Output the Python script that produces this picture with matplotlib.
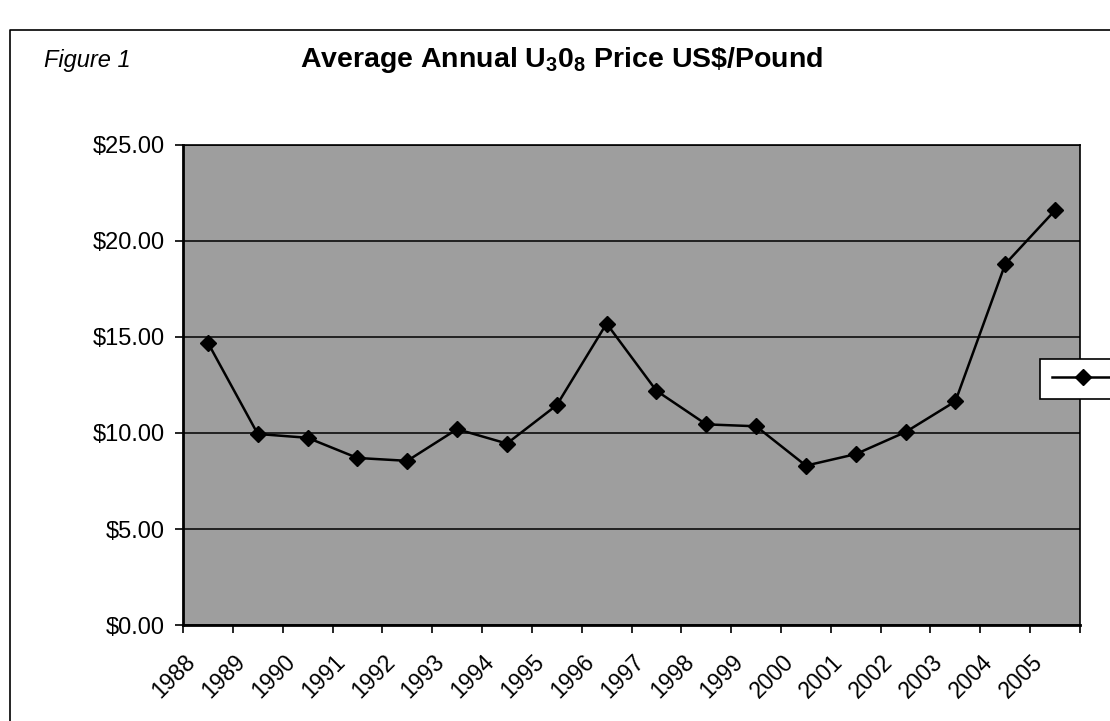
import matplotlib
matplotlib.use('Agg')
import matplotlib.pyplot as plt
from matplotlib.lines import Line2D
from matplotlib.transforms import ScaledTranslation

plt.rcParams['font.family'] = ['Liberation Sans', 'DejaVu Sans']
plt.rcParams['mathtext.fontset'] = 'custom'
plt.rcParams['mathtext.rm'] = 'Liberation Sans:bold'
plt.rcParams['mathtext.bf'] = 'Liberation Sans:bold'

years = ['1988', '1989', '1990', '1991', '1992', '1993', '1994', '1995', '1996',
         '1997', '1998', '1999', '2000', '2001', '2002', '2003', '2004', '2005']
prices = [14.70, 9.95, 9.75, 8.70, 8.55, 10.20, 9.45, 11.45, 15.70,
          12.20, 10.45, 10.35, 8.30, 8.90, 10.05, 11.65, 18.80, 21.60]
y_ticks = [0, 5, 10, 15, 20, 25]
y_labels = ['$0.00', '$5.00', '$10.00', '$15.00', '$20.00', '$25.00']

fig = plt.figure(figsize=(11.1, 7.21), dpi=100)
ax = fig.add_axes([183 / 1110, 96 / 721, 897 / 1110, 480 / 721])
ax.set_facecolor('#9e9e9e')

x = list(range(len(years)))
line, = ax.plot(x, prices, color='black', lw=1.8, marker='D', markersize=8.5,
                markerfacecolor='black', markeredgecolor='black', zorder=3)

ax.set_xlim(-0.5, len(years) - 0.5)
ax.set_ylim(0, 25)
ax.set_yticks(y_ticks)
ax.set_yticklabels(y_labels, fontsize=17)
ax.yaxis.grid(True, color='black', lw=1.1)
ax.set_axisbelow(True)

ax.set_xticks(x)
ax.set_xticks([i - 0.5 for i in range(len(years) + 1)], minor=True)
ax.set_xticklabels(years, fontsize=16.5, rotation=45, ha='right', va='center',
                   rotation_mode='anchor')
ax.tick_params(axis='x', which='major', length=0, pad=24)
ax.tick_params(axis='x', which='minor', length=6, width=1.2, direction='out')
ax.tick_params(axis='y', length=6, width=1.2, pad=7)
off = ScaledTranslation(-0.16, 0, fig.dpi_scale_trans)
for lab in ax.get_xticklabels():
    lab.set_transform(lab.get_transform() + off)

for side in ['top', 'right']:
    ax.spines[side].set_linewidth(1.2)
for side in ['left', 'bottom']:
    ax.spines[side].set_linewidth(2)

leg = fig.legend(handles=[line], labels=[''], loc='center left',
                 bbox_to_anchor=(1040 / 1110, 1 - 379 / 721), frameon=True,
                 fancybox=False, edgecolor='black', framealpha=1,
                 handlelength=3.2, fontsize=14, borderpad=0.6, handletextpad=0.2,
                 borderaxespad=0)
leg.get_frame().set_linewidth(1.2)

fig.text(562 / 1110, 1 - 60 / 721,
         r'Average Annual $\mathbf{U_30_8}$ Price US\$/Pound',
         ha='center', va='center', fontsize=20.5, fontweight='bold')
fig.text(44 / 1110, 1 - 60 / 721, 'Figure 1', ha='left', va='center',
         fontsize=17, style='italic')

fig.add_artist(Line2D([10 / 1110, 10 / 1110, 1.0], [0, 1 - 30 / 721, 1 - 30 / 721],
                      transform=fig.transFigure, color='black', lw=1.2))

fig.savefig('out.png', dpi=100)
